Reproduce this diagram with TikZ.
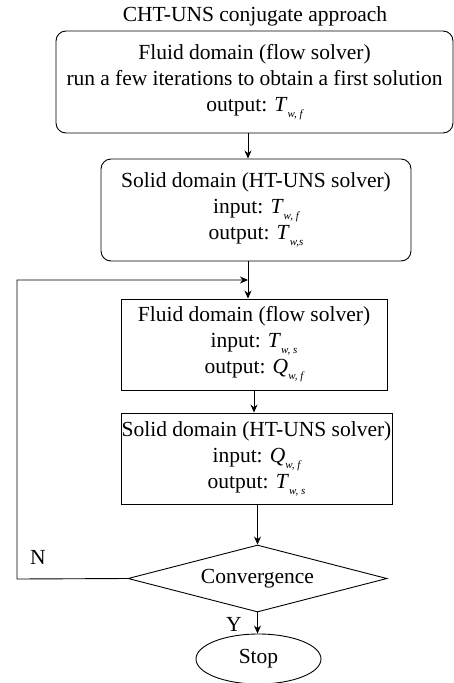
\documentclass[tikz,border=0pt]{standalone}
\usepackage{fontspec}
\setmainfont{Liberation Serif}
\usetikzlibrary{shapes.geometric,arrows.meta}
\newcommand{\vsub}[2]{\textit{#1}\raisebox{-0.6ex}{\fontsize{11}{11}\selectfont\itshape #2}}
\begin{document}
\begin{tikzpicture}[x=1pt,y=1pt,
  every node/.style={font=\fontsize{21.5}{26}\selectfont, inner sep=0pt},
  rbox/.style={draw, line width=0.9pt, rounded corners=10pt, align=center},
  sbox/.style={draw, line width=0.9pt, align=center},
  dec/.style={draw, line width=0.9pt, diamond, minimum width=259pt, minimum height=67pt, aspect=3.87},
  term/.style={draw, line width=0.9pt, ellipse, minimum width=125pt, minimum height=50pt},
  arr/.style={line width=0.9pt, -{Stealth[length=8pt,width=7pt]}}]
\useasboundingbox (0,0) rectangle (454,-683);
\node (title) at (255,-16) {CHT-UNS conjugate approach};
\node[rbox, minimum width=397pt, minimum height=102pt] (b1) at (254.5,-82)
  {Fluid domain (flow solver)\\\makebox[376pt][s]{run a few iterations to obtain a first solution}\\output: \vsub{T}{w, f}};
\node[rbox, minimum width=310pt, minimum height=102pt] (b2) at (256,-210)
  {Solid domain (HT-UNS solver)\\input: \vsub{T}{w, f}\\output: \vsub{T}{w,s}};
\node[sbox, minimum width=266pt, minimum height=91pt] (b3) at (254,-344.5)
  {Fluid domain (flow solver)\\input: \vsub{T}{w, s}\\output: \vsub{Q}{w, f}};
\node[sbox, minimum width=271pt, minimum height=91pt] (b4) at (256.5,-458.5)
  {Solid domain (HT-UNS solver)\\input: \vsub{Q}{w, f}\\output: \vsub{T}{w, s}};
\node[dec] (d) at (257.5,-578.5) {Convergence};
\node[term] (stop) at (258.5,-659) {Stop};
\node (N) at (38,-557) {N};
\node (Y) at (234,-624) {Y};
\coordinate (j) at (248,-280);
\coordinate (lb) at (17,-579);
\coordinate (lt) at (17,-280);
\draw[arr] (b1.south -| 248,0) -- (b2.north -| 248,0);
\draw[arr] (b2.south -| 248,0) -- (b3.north -| 248,0);
\draw[arr] (d.west) -- (lb) -- (lt) -- (j);
\draw[arr] (b3.south -| 254,0) -- (b4.north -| 254,0);
\draw[arr] (b4.south -| 257.5,0) -- (d.north);
\draw[arr] (d.south) -- (stop.north -| d.south);
\end{tikzpicture}
\end{document}
